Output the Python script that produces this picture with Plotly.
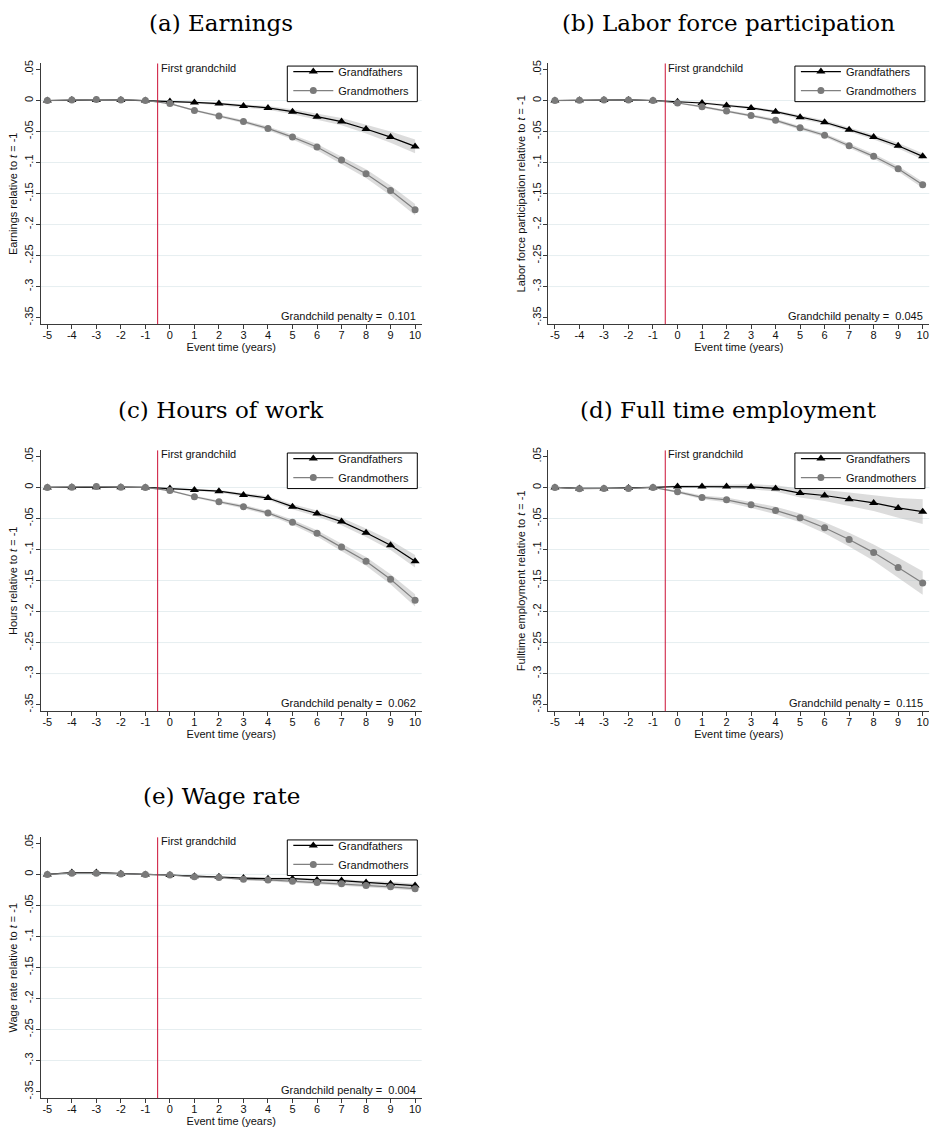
import plotly.graph_objects as go

# ---------------------------------------------------------------------------
# Data: event-study estimates relative to t = -1 (years -5 ... 10)
# ---------------------------------------------------------------------------
EVENT_TIME = list(range(-5, 11))
X_TICK_TEXT = ["-5", "-4", "-3", "-2", "-1", "0", "1", "2", "3", "4", "5", "6", "7",
               "8", "9", "10"]

Y_TICKS = [0.05, 0, -0.05, -0.1, -0.15, -0.2, -0.25, -0.3, -0.35]
Y_TICK_TEXT = [".05", "0", "-.05", "-.1", "-.15", "-.2", "-.25", "-.3", "-.35"]
GRID_VALUES = [0, -0.05, -0.1, -0.15, -0.2, -0.25, -0.3]
EVENT_LINE = -0.5

# (a) Earnings
EARN_GF = [0, 0.001, 0.001, 0.001, 0, -0.0015, -0.003, -0.005, -0.009, -0.012,
           -0.018, -0.026, -0.034, -0.046, -0.059, -0.074]
EARN_GF_CI = [0.001, 0.001, 0.001, 0.001, 0.0005, 0.001, 0.0015, 0.002, 0.0025, 0.003,
              0.004, 0.005, 0.006, 0.007, 0.009, 0.011]
EARN_GM = [0, 0.001, 0.0015, 0.001, 0, -0.005, -0.016, -0.025, -0.034, -0.045,
           -0.059, -0.075, -0.096, -0.118, -0.145, -0.176]
EARN_GM_CI = [0.001, 0.001, 0.001, 0.001, 0.0005, 0.001, 0.0015, 0.002, 0.0025, 0.003,
              0.004, 0.005, 0.006, 0.007, 0.008, 0.009]

# (b) Labor force participation
LFP_GF = [0, 0.0005, 0.001, 0.001, 0, -0.002, -0.004, -0.008, -0.012, -0.018,
          -0.027, -0.035, -0.047, -0.059, -0.073, -0.090]
LFP_GF_CI = [0.001, 0.001, 0.001, 0.001, 0.0005, 0.001, 0.0015, 0.002, 0.002, 0.0025,
             0.003, 0.003, 0.0035, 0.004, 0.0045, 0.005]
LFP_GM = [0, 0.0005, 0.001, 0.001, 0, -0.004, -0.010, -0.017, -0.024, -0.032,
          -0.044, -0.056, -0.073, -0.090, -0.110, -0.136]
LFP_GM_CI = [0.001, 0.001, 0.001, 0.001, 0.0005, 0.001, 0.0015, 0.002, 0.002, 0.0025,
             0.003, 0.003, 0.0035, 0.004, 0.0045, 0.005]

# (c) Hours of work
HRS_GF = [0, 0.0005, 0.0005, 0.0005, 0, -0.0015, -0.004, -0.006, -0.012, -0.017,
          -0.031, -0.042, -0.055, -0.073, -0.093, -0.119]
HRS_GF_CI = [0.001, 0.001, 0.001, 0.001, 0.0005, 0.001, 0.0015, 0.002, 0.003, 0.003,
             0.004, 0.005, 0.006, 0.007, 0.008, 0.010]
HRS_GM = [0, 0.0005, 0.0015, 0.0005, 0, -0.005, -0.015, -0.023, -0.031, -0.041,
          -0.056, -0.074, -0.096, -0.119, -0.148, -0.182]
HRS_GM_CI = [0.001, 0.001, 0.001, 0.001, 0.0005, 0.001, 0.0015, 0.002, 0.003, 0.003,
             0.004, 0.005, 0.006, 0.007, 0.008, 0.010]

# (d) Full time employment
FTE_GF = [0, -0.0015, -0.0015, -0.001, 0, 0.0015, 0.0015, 0.0015, 0.001, -0.0015,
          -0.009, -0.013, -0.019, -0.025, -0.033, -0.039]
FTE_GF_CI = [0.001, 0.001, 0.001, 0.001, 0.0005, 0.002, 0.002, 0.003, 0.004, 0.005,
             0.007, 0.009, 0.011, 0.013, 0.016, 0.020]
FTE_GM = [0, -0.002, -0.0015, -0.0015, 0, -0.007, -0.016, -0.020, -0.028, -0.037,
          -0.049, -0.065, -0.084, -0.105, -0.129, -0.154]
FTE_GM_CI = [0.001, 0.001, 0.001, 0.001, 0.0005, 0.002, 0.003, 0.004, 0.005, 0.006,
             0.007, 0.009, 0.011, 0.013, 0.016, 0.019]

# (e) Wage rate
WAGE_GF = [0, 0.003, 0.003, 0.001, 0, -0.001, -0.003, -0.004, -0.006, -0.007,
           -0.007, -0.009, -0.010, -0.013, -0.015, -0.018]
WAGE_GF_CI = [0.001, 0.001, 0.001, 0.001, 0.0005, 0.001, 0.001, 0.0015, 0.0015, 0.002,
              0.002, 0.002, 0.0025, 0.0025, 0.003, 0.003]
WAGE_GM = [0, 0.002, 0.002, 0.0005, 0, -0.001, -0.004, -0.005, -0.008, -0.009,
           -0.011, -0.013, -0.015, -0.018, -0.020, -0.023]
WAGE_GM_CI = [0.001, 0.001, 0.001, 0.001, 0.0005, 0.001, 0.001, 0.0015, 0.0015, 0.002,
              0.002, 0.002, 0.0025, 0.0025, 0.003, 0.003]

PANEL_TITLES = ["(a) Earnings", "(b) Labor force participation", "(c) Hours of work",
                "(d) Full time employment", "(e) Wage rate"]
Y_TITLES = ["Earnings", "Labor force participation", "Hours",
            "Fulltime employment", "Wage rate"]
PENALTIES = ["0.101", "0.045", "0.062", "0.115", "0.004"]

SERIES = [
    (EARN_GF, EARN_GF_CI, EARN_GM, EARN_GM_CI),
    (LFP_GF, LFP_GF_CI, LFP_GM, LFP_GM_CI),
    (HRS_GF, HRS_GF_CI, HRS_GM, HRS_GM_CI),
    (FTE_GF, FTE_GF_CI, FTE_GM, FTE_GM_CI),
    (WAGE_GF, WAGE_GF_CI, WAGE_GM, WAGE_GM_CI),
]

# ---------------------------------------------------------------------------
# Layout geometry (pixels on a 930 x 1132 page)
# ---------------------------------------------------------------------------
W, H = 930, 1132
COLS = [(40.7, 421.7), (548.3, 929.3)]
ROWS = [(60.7, 322.3), (449.0, 710.7), (837.3, 1099.0)]
X_RANGE = [-5.27, 10.27]
Y_RANGE = [-0.3606, 0.0597]
LEGEND_BOX_W, LEGEND_BOX_H = 130.0, 35.7

SANS = "Liberation Sans, Arial, Helvetica, sans-serif"
SERIF = "DejaVu Serif, serif"
TEXT_COLOR = "#111111"
AXIS_COLOR = "#3a3a3a"
GRID_COLOR = "#e6eef0"
EVENT_COLOR = "#cc1036"
GF_COLOR = "#000000"
GM_COLOR = "#808080"
BAND_COLOR = "rgba(185,185,185,0.5)"


def px_x(x):
    return x / W


def px_y(y):
    return 1 - y / H


def sans(size=11):
    return dict(family=SANS, size=size, color=TEXT_COLOR)


fig = go.Figure()
shapes = []
annotations = []
layout = {}

for i, (title, ytitle, pen, series) in enumerate(zip(PANEL_TITLES, Y_TITLES, PENALTIES, SERIES)):
    n = i + 1
    row, col = divmod(i, 2)
    x0, x1 = COLS[col]
    y0, y1 = ROWS[row]
    xa = "x" if n == 1 else f"x{n}"
    ya = "y" if n == 1 else f"y{n}"
    leg = "legend" if n == 1 else f"legend{n}"

    gf, gf_ci, gm, gm_ci = series

    # confidence bands
    for vals, ci in ((gf, gf_ci), (gm, gm_ci)):
        upper = [v + c for v, c in zip(vals, ci)]
        lower = [v - c for v, c in zip(vals, ci)]
        fig.add_trace(go.Scatter(
            x=EVENT_TIME + EVENT_TIME[::-1], y=upper + lower[::-1],
            fill="toself", fillcolor=BAND_COLOR, line=dict(width=0),
            mode="lines", hoverinfo="skip", showlegend=False,
            xaxis=xa, yaxis=ya))

    # point estimates
    fig.add_trace(go.Scatter(
        x=EVENT_TIME, y=gf, mode="lines+markers", name="Grandfathers",
        line=dict(color=GF_COLOR, width=1.2),
        marker=dict(symbol="triangle-up", size=8, color=GF_COLOR),
        xaxis=xa, yaxis=ya, legend=leg))
    fig.add_trace(go.Scatter(
        x=EVENT_TIME, y=gm, mode="lines+markers", name="Grandmothers",
        line=dict(color=GM_COLOR, width=1.2),
        marker=dict(symbol="circle", size=7, color="#7a7a7a"),
        xaxis=xa, yaxis=ya, legend=leg))

    # axes
    layout["xaxis" if n == 1 else f"xaxis{n}"] = dict(
        domain=[px_x(x0), px_x(x1)], anchor=ya, range=X_RANGE,
        tickmode="array", tickvals=EVENT_TIME, ticktext=X_TICK_TEXT,
        ticks="outside", ticklen=4, ticklabelstandoff=-3,
        tickcolor=AXIS_COLOR, showline=True, linecolor=AXIS_COLOR, linewidth=1,
        showgrid=False, zeroline=False, tickfont=sans(11),
        title=dict(text="Event time (years)", standoff=0, font=sans(11)))
    layout["yaxis" if n == 1 else f"yaxis{n}"] = dict(
        domain=[px_y(y1), px_y(y0)], anchor=xa, range=Y_RANGE,
        tickmode="array", tickvals=Y_TICKS, ticktext=Y_TICK_TEXT, tickangle=-90,
        ticks="outside", ticklen=4, ticklabelstandoff=-2, tickcolor=AXIS_COLOR,
        showline=True, linecolor=AXIS_COLOR, linewidth=1,
        showgrid=False, zeroline=False, tickfont=sans(11),
        title=dict(text=f"{ytitle} relative to <i>t</i> = -1", standoff=3,
                   font=sans(11)))

    # horizontal grid
    for g in GRID_VALUES:
        shapes.append(dict(type="line", xref=f"{xa} domain", x0=0, x1=1,
                           yref=ya, y0=g, y1=g, layer="below",
                           line=dict(color=GRID_COLOR, width=1)))
    # event marker
    shapes.append(dict(type="line", xref=xa, x0=EVENT_LINE, x1=EVENT_LINE,
                       yref=f"{ya} domain", y0=0, y1=1,
                       line=dict(color=EVENT_COLOR, width=1)))

    annotations.append(dict(text="First grandchild", xref=xa, x=EVENT_LINE,
                            xanchor="left", xshift=1, yref=ya, y=0.05, yshift=2,
                            yanchor="middle", showarrow=False, font=sans(11)))
    annotations.append(dict(text=f"Grandchild penalty = \u00a0{pen}",
                            xref=f"{xa} domain", x=0.99, xanchor="right",
                            yref=ya, y=-0.35, yshift=2, yanchor="middle",
                            showarrow=False, font=sans(11)))
    # panel title
    annotations.append(dict(text=title, xref="paper", yref="paper",
                            x=px_x((x0 + x1) / 2 - 10), y=px_y(y0 - 41),
                            xanchor="center", yanchor="middle", showarrow=False,
                            font=dict(family=SERIF, size=23, color="#000000")))

    # legend: opaque framed box with the legend entries laid over it
    box_right = x1 - 4.4
    box_left = box_right - LEGEND_BOX_W
    box_top = y0 + 2.6
    shapes.append(dict(type="rect", xref="paper", yref="paper",
                       x0=px_x(box_left), x1=px_x(box_right),
                       y0=px_y(box_top + LEGEND_BOX_H), y1=px_y(box_top),
                       fillcolor="white", line=dict(color="#000000", width=1),
                       layer="above"))
    layout[leg] = dict(
        x=px_x(box_left + 1), y=px_y(box_top - 9), xanchor="left", yanchor="top",
        bgcolor="rgba(0,0,0,0)", borderwidth=0, font=sans(11),
        itemwidth=40, tracegroupgap=0, itemclick=False, itemdoubleclick=False,
    )

fig.update_layout(
    width=W, height=H, margin=dict(l=0, r=0, t=0, b=0),
    paper_bgcolor="white", plot_bgcolor="white",
    shapes=shapes, annotations=annotations, **layout)

fig.write_html("out.html")
